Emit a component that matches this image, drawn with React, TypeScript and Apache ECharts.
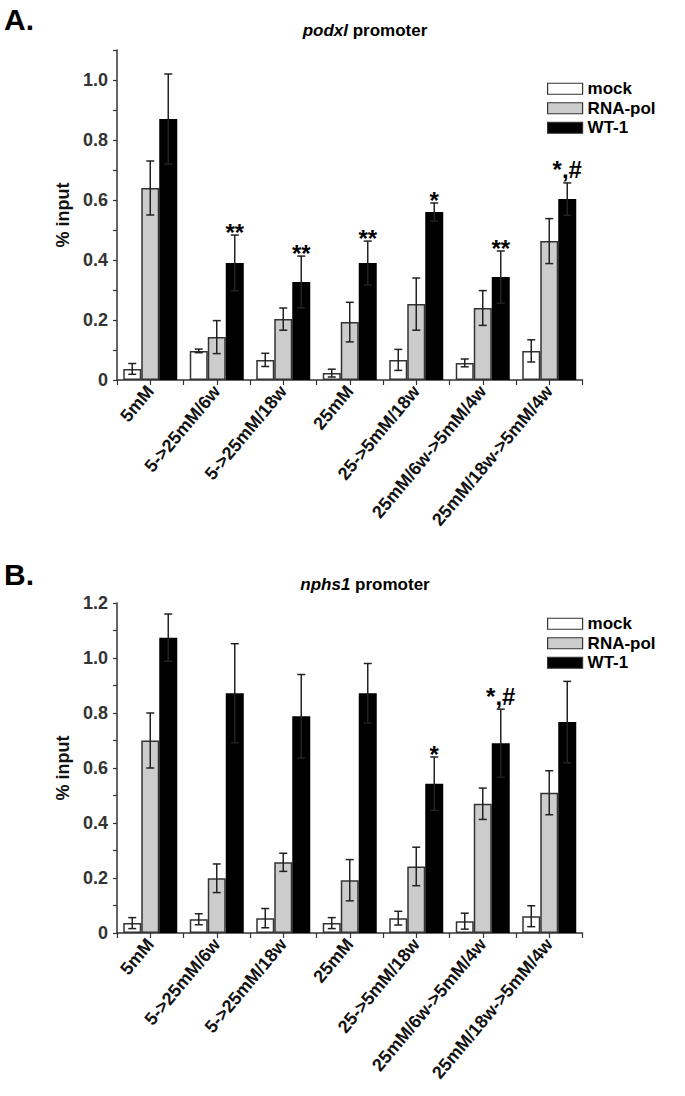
import React, { useEffect, useRef } from "react";
import * as echarts from "echarts";

const categories = ["5mM", "5->25mM/6w", "5->25mM/18w", "25mM", "25->5mM/18w", "25mM/6w->5mM/4w", "25mM/18w->5mM/4w"];
const seriesNames = ["mock", "RNA-pol", "WT-1"];

// Panel A: podxl promoter
const mockA = [0.037, 0.097, 0.067, 0.023, 0.067, 0.057, 0.097];
const mockErrA = [0.018, 0.006, 0.022, 0.013, 0.035, 0.013, 0.037];
const rnaA = [0.64, 0.143, 0.203, 0.193, 0.253, 0.24, 0.463];
const rnaErrA = [0.09, 0.055, 0.037, 0.066, 0.087, 0.058, 0.075];
const wtA = [0.87, 0.39, 0.327, 0.39, 0.56, 0.343, 0.603];
const wtErrA = [0.15, 0.093, 0.086, 0.073, 0.03, 0.087, 0.054];
const sigA = ["", "**", "**", "**", "*", "**", "*,#"];

// Panel B: nphs1 promoter
const mockB = [0.036, 0.05, 0.054, 0.036, 0.054, 0.043, 0.061];
const mockErrB = [0.02, 0.02, 0.035, 0.02, 0.025, 0.029, 0.038];
const rnaB = [0.7, 0.199, 0.257, 0.192, 0.242, 0.47, 0.51];
const rnaErrB = [0.1, 0.052, 0.033, 0.075, 0.07, 0.057, 0.08];
const wtB = [1.074, 0.872, 0.788, 0.872, 0.543, 0.69, 0.767];
const wtErrB = [0.086, 0.18, 0.152, 0.108, 0.097, 0.124, 0.148];
const sigB = ["", "", "", "", "*", "*,#", ""];

const FONT = "Liberation Sans, Arial, sans-serif";
const BAR_W = 18;

const barColors = ["#ffffff", "#cccccc", "#000000"];
const barBorders = ["#333333", "#333333", "#000000"];

function errSeries(g: number, vals: number[], errs: number[], offset: number, sig?: string[]) {
  return {
    type: "custom",
    xAxisIndex: g,
    yAxisIndex: g,
    z: 5,
    silent: true,
    data: vals.map((v, i) => [i, v, errs[i]]),
    renderItem: (params: any, api: any) => {
      const i = api.value(0);
      const v = api.value(1);
      const e = api.value(2);
      const c = api.coord([i, v]);
      const x = c[0] + offset;
      const yt = api.coord([i, v + e])[1];
      const yb = api.coord([i, Math.max(v - e, 0)])[1];
      const ls = { stroke: "#222", lineWidth: 1.5 };
      const children: any[] = [
        { type: "line", shape: { x1: x, y1: yt, x2: x, y2: yb }, style: ls },
        { type: "line", shape: { x1: x - 4, y1: yt, x2: x + 4, y2: yt }, style: ls },
        { type: "line", shape: { x1: x - 4, y1: yb, x2: x + 4, y2: yb }, style: ls },
      ];
      const s = sig ? sig[params.dataIndex] : "";
      if (s) {
        children.push({
          type: "text",
          x: x,
          y: yt + (s.indexOf("#") >= 0 ? -1 : 9),
          style: {
            text: s,
            fontSize: 24,
            fontWeight: "bold",
            fontFamily: FONT,
            fill: "#000",
            align: "center",
            verticalAlign: "bottom",
          },
        });
      }
      return { type: "group", children };
    },
  };
}

function panelSeries(g: number, m: number[], me: number[], r: number[], re: number[], w: number[], we: number[], sig: string[]) {
  const vals = [m, r, w];
  const errs = [me, re, we];
  const out: any[] = [];
  for (let k = 0; k < 3; k++) {
    out.push({
      type: "bar",
      name: seriesNames[k],
      xAxisIndex: g,
      yAxisIndex: g,
      barWidth: BAR_W,
      barGap: "0%",
      data: vals[k],
      itemStyle: { color: barColors[k], borderColor: barBorders[k], borderWidth: 1.5 },
    });
  }
  for (let k = 0; k < 3; k++) {
    out.push(errSeries(g, vals[k], errs[k], (k - 1) * BAR_W, k === 2 ? sig : undefined));
  }
  return out;
}

function yAxisFor(g: number, max: number) {
  return {
    type: "value",
    gridIndex: g,
    min: 0,
    max: max,
    interval: 0.1,
    name: "% input",
    nameLocation: "middle",
    nameGap: 45,
    nameTextStyle: { fontFamily: FONT, fontSize: 18, fontWeight: "bold", color: "#111" },
    axisLine: { show: true, lineStyle: { color: "#333", width: 1.5 } },
    axisTick: { show: true, length: 4, lineStyle: { color: "#333", width: 1.2 } },
    splitLine: { show: false },
    axisLabel: {
      margin: 9,
      fontFamily: FONT,
      fontSize: 18,
      fontWeight: "bold",
      color: "#333",
      formatter: (v: number) => {
        const r = Math.round(v * 10);
        if (r % 2 !== 0) return "";
        return r === 0 ? "0" : (r / 10).toFixed(1);
      },
    },
  };
}

function xAxisFor(g: number) {
  return {
    type: "category",
    gridIndex: g,
    data: categories,
    axisLine: { show: true, lineStyle: { color: "#333", width: 1.5 } },
    axisTick: { show: false },
    axisLabel: {
      interval: 0,
      rotate: 50,
      margin: 8,
      fontFamily: FONT,
      fontSize: 18,
      fontWeight: "bold",
      color: "#111",
    },
  };
}

function halfTickAxis(g: number) {
  return {
    type: "category",
    gridIndex: g,
    position: "bottom",
    data: new Array(categories.length * 2).fill(""),
    axisLine: { show: false },
    axisTick: { show: true, interval: 0, length: 5, lineStyle: { color: "#333", width: 1.2 } },
    axisLabel: { show: false },
  };
}

function titleFor(name: string, top: number) {
  return {
    text: "{i|" + name + "} promoter",
    left: 360,
    top: top,
    textAlign: "center",
    textStyle: {
      fontFamily: FONT,
      fontSize: 17,
      fontWeight: "bold",
      color: "#000",
      rich: { i: { fontFamily: FONT, fontSize: 17, fontWeight: "bold", fontStyle: "italic", color: "#000" } },
    },
  };
}

export default function App() {
  const ref = useRef<HTMLDivElement>(null);
  useEffect(() => {
    if (!ref.current) return;
    const chart = echarts.init(ref.current, null, { renderer: "svg" });
    const legendBase = {
      orient: "vertical",
      left: 542,
      itemWidth: 35,
      itemHeight: 11,
      itemGap: 0,
      icon: "rect",
      selectedMode: false,
      data: seriesNames,
      itemStyle: { borderColor: "#333", borderWidth: 1.2 },
      textStyle: { fontFamily: FONT, fontSize: 17, fontWeight: "bold", color: "#000", lineHeight: 19.5 },
    };
    const option: any = {
      animation: false,
      backgroundColor: "#fff",
      textStyle: { fontFamily: FONT },
      title: [titleFor("podxl", 17), titleFor("nphs1", 571)],
      graphic: [
        { type: "text", left: 4, top: 4, style: { text: "A.", fontFamily: FONT, fontSize: 30, fontWeight: "bold", fill: "#000" } },
        { type: "text", left: 4, top: 559, style: { text: "B.", fontFamily: FONT, fontSize: 30, fontWeight: "bold", fill: "#000" } },
      ],
      legend: [
        { ...legendBase, top: 74 },
        { ...legendBase, top: 609 },
      ],
      grid: [
        { left: 117, top: 50, width: 465.5, height: 330 },
        { left: 117, top: 603, width: 465.5, height: 330 },
      ],
      xAxis: [xAxisFor(0), xAxisFor(1), halfTickAxis(0), halfTickAxis(1)],
      yAxis: [yAxisFor(0, 1.1), yAxisFor(1, 1.2)],
      series: [
        ...panelSeries(0, mockA, mockErrA, rnaA, rnaErrA, wtA, wtErrA, sigA),
        ...panelSeries(1, mockB, mockErrB, rnaB, rnaErrB, wtB, wtErrB, sigB),
      ],
    };
    chart.setOption(option);
    return () => chart.dispose();
  }, []);
  return <div ref={ref} style={{ position: "absolute", left: 0, top: 0, width: 685, height: 1096 }} />;
}
